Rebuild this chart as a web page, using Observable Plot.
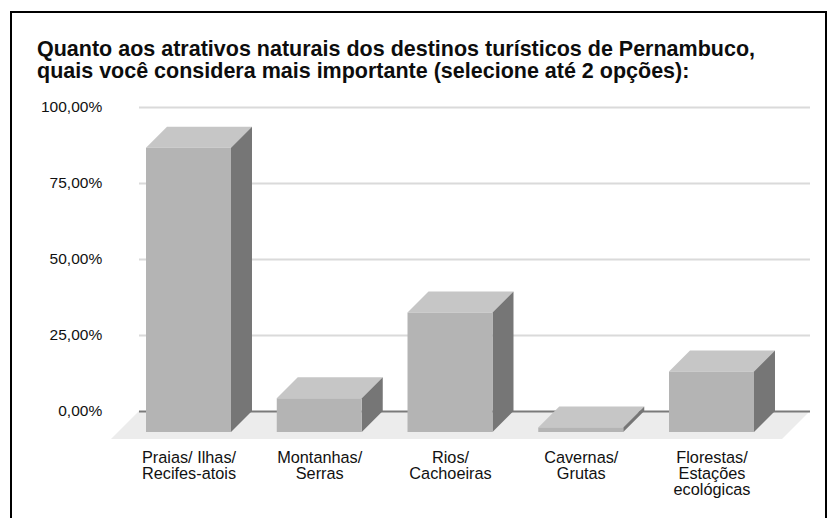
<!DOCTYPE html>
<html>
<head>
<meta charset="utf-8">
<script src="https://cdn.jsdelivr.net/npm/d3@7"></script>
<script src="https://cdn.jsdelivr.net/npm/@observablehq/plot@0.6"></script>
<style>
  html, body { margin: 0; padding: 0; background: #fff; }
  body { width: 829px; height: 518px; position: relative; overflow: hidden; font-family: "Liberation Sans", Arial, sans-serif; }
  #frame { position: absolute; left: 10px; top: 11px; width: 817px; height: 600px; border: 2px solid #000; box-sizing: border-box; }
  #title { position: absolute; left: 37px; top: 38px; font-size: 21.5px; line-height: 22px; font-weight: bold; color: #0d0d0d; white-space: nowrap; }
  #chart { position: absolute; left: 0; top: 83px; }
</style>
</head>
<body>
<div id="frame"></div>
<div id="title">Quanto aos atrativos naturais dos destinos turísticos de Pernambuco,<br>quais você considera mais importante (selecione até 2 opções):</div>
<div id="chart"></div>
<script>
// ---- data ----
const categories = ["Praias/ Ilhas/ Recifes-atois", "Montanhas/ Serras", "Rios/ Cachoeiras", "Cavernas/ Grutas", "Florestas/ Estações ecológicas"];
const labels = ["Praias/ Ilhas/\nRecifes-atois", "Montanhas/\nSerras", "Rios/\nCachoeiras", "Cavernas/\nGrutas", "Florestas/\nEstações\necológicas"];
const values = [93.5, 11.1, 39.3, 1.5, 19.9];
const yTicks = [0, 25, 50, 75, 100];

// ---- style ----
const depth = 21;      // bar depth (px)
const floorDepth = 28; // floor depth (px)
const frontColor = "#b4b4b4";
const topColor = "#c6c6c6";
const sideColor = "#767676";

const data = categories.map((c, i) => ({cat: c, label: labels[i], value: values[i]}));

function floorMark(index, scales, vals, dims) {
  const y0 = scales.y(0);
  const x0 = dims.marginLeft, x1 = dims.width - dims.marginRight;
  const g = d3.create("svg:g");
  g.append("path")
    .attr("d", `M${x0},${y0}L${x1},${y0}L${x1 - floorDepth},${y0 + floorDepth}L${x0 - floorDepth},${y0 + floorDepth}Z`)
    .attr("fill", "#ececec");
  return g.node();
}

function facesMark(index, scales, vals, dims) {
  const {x, y} = scales;
  const bw = x.bandwidth ? x.bandwidth() : 85;
  const y0 = y(0);
  const g = d3.create("svg:g");
  data.forEach(d => {
    const xl = x(d.cat), xr = xl + bw, yt = y(d.value);
    const fl = xl - depth, fr = xr - depth, ft = yt + depth, fb = y0 + depth;
    g.append("path")
      .attr("d", `M${fl},${ft}L${fr},${ft}L${xr},${yt}L${xl},${yt}Z`)
      .attr("fill", topColor);
    g.append("path")
      .attr("d", `M${fr},${ft}L${xr},${yt}L${xr},${y0}L${fr},${fb}Z`)
      .attr("fill", sideColor);
  });
  return g.node();
}

const plot = Plot.plot({
  width: 829,
  height: 435,
  marginTop: 24,
  marginBottom: 107,
  marginLeft: 139,
  marginRight: 19,
  style: {fontFamily: "'Liberation Sans', Arial, sans-serif", fontSize: "15.5px", color: "#111", background: "transparent", overflow: "visible"},
  x: {domain: categories, range: [167, 775], paddingInner: 0.35, paddingOuter: 0, round: false, axis: null},
  y: {domain: [0, 100], ticks: yTicks, tickSize: 0, tickPadding: 37.3, label: null,
      tickFormat: d => d.toFixed(2).replace(".", ",") + "%"},
  marks: [
    floorMark,
    Plot.ruleY(yTicks.filter(t => t > 0), {stroke: "#dadada", strokeWidth: 2}),
    Plot.ruleY([0], {stroke: "#7a7a7a", strokeWidth: 2}),
    facesMark,
    Plot.barY(data, {x: "cat", y: "value", fill: frontColor, dx: -depth, dy: depth}),
    Plot.text(data, {x: "cat", y: () => 0, text: "label", dx: -depth, dy: 39.7, lineAnchor: "top",
      textAnchor: "middle", fontSize: 16.3, lineHeight: 1.0, fill: "#111"})
  ]
});
document.getElementById("chart").appendChild(plot);
</script>
</body>
</html>
